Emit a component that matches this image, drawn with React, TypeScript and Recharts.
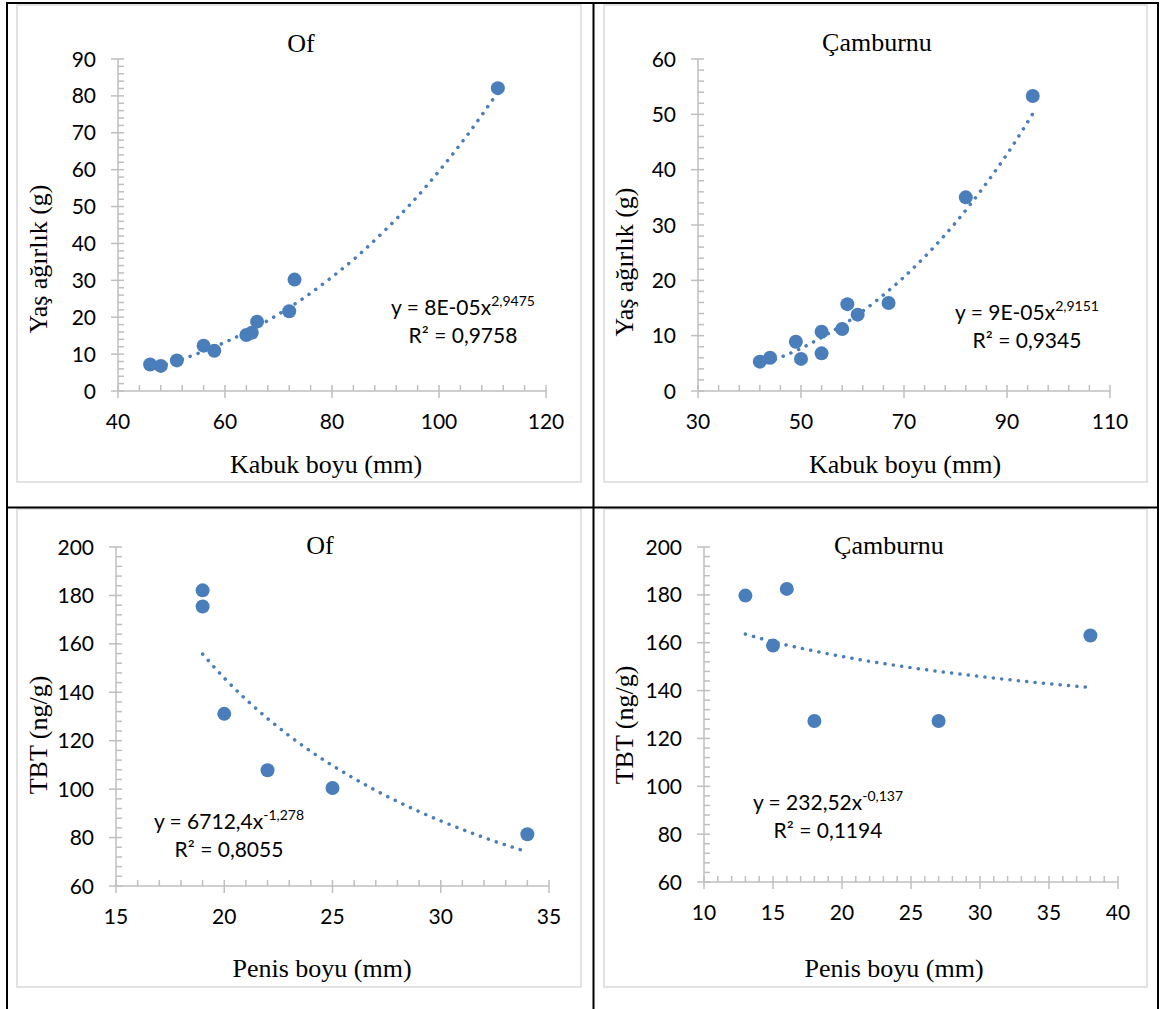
import React from 'react'
import { ComposedChart, Scatter, Line, XAxis, YAxis } from 'recharts'

// Of – shell length vs wet weight
const ofShellLength = [46, 48, 51, 56, 58, 64, 65, 66, 72, 73, 111]
const ofWetWeight = [7.2, 6.8, 8.3, 12.3, 10.9, 15.2, 15.8, 18.8, 21.6, 30.2, 82.1]
const ofWeightTrendX = [46, 50, 55, 60, 65, 70, 75, 80, 85, 90, 95, 100, 105, 111]
const ofWeightTrendY = [6.0, 7.7, 10.2, 13.2, 16.7, 20.8, 25.5, 30.9, 36.9, 43.7, 51.2, 59.6, 68.8, 81.0]

// Çamburnu – shell length vs wet weight
const camShellLength = [42, 44, 49, 50, 54, 54, 58, 59, 61, 67, 82, 95]
const camWetWeight = [5.3, 6.0, 8.9, 5.8, 10.7, 6.8, 11.2, 15.7, 13.8, 15.9, 35.0, 53.3]
const camWeightTrendX = [42, 45, 50, 55, 60, 65, 70, 75, 80, 85, 90, 95]
const camWeightTrendY = [4.6, 5.7, 7.7, 10.2, 13.1, 16.6, 20.6, 25.2, 30.4, 36.3, 42.8, 50.1]

// Of – penis length vs TBT
const ofPenisLength = [19, 19, 20, 22, 25, 34]
const ofTbt = [182.1, 175.4, 131.1, 107.8, 100.5, 81.4]
const ofTbtTrendX = [19, 20, 22, 24, 26, 28, 30, 32, 34]
const ofTbtTrendY = [155.8, 145.9, 129.2, 115.6, 104.4, 94.9, 86.9, 80.0, 74.1]

// Çamburnu – penis length vs TBT
const camPenisLength = [13, 15, 16, 18, 27, 38]
const camTbt = [179.7, 158.8, 182.5, 127.3, 127.3, 163.0]
const camTbtTrendX = [13, 15, 18, 21, 24, 27, 30, 34, 38]
const camTbtTrendY = [163.6, 160.4, 156.5, 153.2, 150.4, 148.0, 145.9, 143.4, 141.3]

// tick labels
const weightXTicksOf = [40, 60, 80, 100, 120]
const weightYTicksOf = [0, 10, 20, 30, 40, 50, 60, 70, 80, 90]
const weightXTicksCam = [30, 50, 70, 90, 110]
const weightYTicksCam = [0, 10, 20, 30, 40, 50, 60]
const tbtXTicksOf = [15, 20, 25, 30, 35]
const tbtXTicksCam = [10, 15, 20, 25, 30, 35, 40]
const tbtYTicks = [60, 80, 100, 120, 140, 160, 180, 200]

const BLUE = '#4a7ebb'
const AXIS = '#bfbfbf'
const SANS = 'Lato, "Open Sans", sans-serif'
const SERIF = '"Liberation Serif", "Times New Roman", serif'

type Pt = { x: number; y: number }
const zip = (xs: number[], ys: number[]): Pt[] => xs.map((x, i) => ({ x, y: ys[i] }))

// majors plus 4 minor ticks between each pair
const withMinor = (majors: number[], parts = 5) => {
  const out: number[] = []
  for (let i = 0; i < majors.length - 1; i++) {
    const step = (majors[i + 1] - majors[i]) / parts
    for (let k = 0; k < parts; k++) out.push(Math.round((majors[i] + k * step) * 1000) / 1000)
  }
  out.push(majors[majors.length - 1])
  return out
}

function Tick(props: any) {
  const { x, y, payload, side, majors } = props
  const v = payload.value
  const major = majors.includes(v)
  if (side === 'y') {
    return (
      <g>
        <line x1={major ? x - 7 : x} x2={x + 6} y1={y} y2={y} stroke={AXIS} strokeWidth={1.5} />
        {major && (
          <text x={x - 22} y={y} dy={7.5} textAnchor="end" fontFamily={SANS} fontSize={21} fill="#000">
            {v}
          </text>
        )}
      </g>
    )
  }
  return (
    <g>
      <line x1={x} x2={x} y1={y - 6} y2={major ? y + 7 : y} stroke={AXIS} strokeWidth={1.5} />
      {major && (
        <text x={x} y={y + 38} textAnchor="middle" fontFamily={SANS} fontSize={21} fill="#000">
          {v}
        </text>
      )}
    </g>
  )
}

type Panel = {
  left: number
  top: number
  width: number
  height: number
  margin: { top: number; right: number }
  yWidth: number
  xHeight: number
  xTicks: number[]
  yTicks: number[]
  points: Pt[]
  trend: Pt[]
}

const panels: Panel[] = [
  {
    left: 18, top: 6, width: 562, height: 475, margin: { top: 53, right: 34 }, yWidth: 100, xHeight: 90,
    xTicks: weightXTicksOf, yTicks: weightYTicksOf,
    points: zip(ofShellLength, ofWetWeight), trend: zip(ofWeightTrendX, ofWeightTrendY),
  },
  {
    left: 605, top: 6, width: 541, height: 475, margin: { top: 53, right: 36 }, yWidth: 93, xHeight: 90,
    xTicks: weightXTicksCam, yTicks: weightYTicksCam,
    points: zip(camShellLength, camWetWeight), trend: zip(camWeightTrendX, camWeightTrendY),
  },
  {
    left: 18, top: 510, width: 562, height: 476, margin: { top: 37, right: 31 }, yWidth: 98, xHeight: 100,
    xTicks: tbtXTicksOf, yTicks: tbtYTicks,
    points: zip(ofPenisLength, ofTbt), trend: zip(ofTbtTrendX, ofTbtTrendY),
  },
  {
    left: 605, top: 510, width: 541, height: 476, margin: { top: 37, right: 28 }, yWidth: 99, xHeight: 104,
    xTicks: tbtXTicksCam, yTicks: tbtYTicks,
    points: zip(camPenisLength, camTbt), trend: zip(camTbtTrendX, camTbtTrendY),
  },
]

function PanelChart({ p }: { p: Panel }) {
  const xs = p.xTicks
  const ys = p.yTicks
  return (
    <div style={{ position: 'absolute', left: p.left, top: p.top }}>
      <ComposedChart
        width={p.width}
        height={p.height}
        margin={{ top: p.margin.top, right: p.margin.right, bottom: 0, left: 0 }}
      >
        <XAxis
          type="number"
          dataKey="x"
          domain={[xs[0], xs[xs.length - 1]]}
          ticks={withMinor(xs)}
          interval={0}
          height={p.xHeight}
          tickSize={0}
          tickMargin={0}
          tickLine={false}
          axisLine={{ stroke: AXIS, strokeWidth: 1.5 }}
          tick={(t: any) => <Tick {...t} side="x" majors={xs} />}
          allowDataOverflow
        />
        <YAxis
          type="number"
          dataKey="y"
          domain={[ys[0], ys[ys.length - 1]]}
          ticks={withMinor(ys)}
          interval={0}
          width={p.yWidth}
          tickSize={0}
          tickMargin={0}
          tickLine={false}
          axisLine={{ stroke: AXIS, strokeWidth: 1.5 }}
          tick={(t: any) => <Tick {...t} side="y" majors={ys} />}
          allowDataOverflow
        />
        <Scatter
          data={p.points}
          dataKey="y"
          fill={BLUE}
          isAnimationActive={false}
          shape={(s: any) => <circle cx={s.cx} cy={s.cy} r={7} fill={BLUE} />}
        />
        <Line
          data={p.trend}
          dataKey="y"
          type="monotone"
          stroke={BLUE}
          strokeWidth={3.5}
          strokeDasharray="0.1 8.3"
          strokeLinecap="round"
          dot={false}
          activeDot={false}
          isAnimationActive={false}
        />
      </ComposedChart>
    </div>
  )
}

// titles, axis titles and trend equations
const texts = [
  { title: 'Of', tx: 301, ty: 52, xTitle: 'Kabuk boyu (mm)', xx: 326, xy: 473, yTitle: 'Yaş ağırlık (g)', yx: 47, yy: 259,
    eq: 'y = 8E-05x', sup: '2,9475', r2: 'R² = 0,9758', ex: 463, ey: 315 },
  { title: 'Çamburnu', tx: 877, ty: 51, xTitle: 'Kabuk boyu (mm)', xx: 905, xy: 473, yTitle: 'Yaş ağırlık (g)', yx: 633, yy: 262,
    eq: 'y = 9E-05x', sup: '2,9151', r2: 'R² = 0,9345', ex: 1027, ey: 320 },
  { title: 'Of', tx: 320, ty: 554, xTitle: 'Penis boyu (mm)', xx: 322, xy: 977, yTitle: 'TBT (ng/g)', yx: 47, yy: 735,
    eq: 'y = 6712,4x', sup: '-1,278', r2: 'R² = 0,8055', ex: 229, ey: 829 },
  { title: 'Çamburnu', tx: 889, ty: 554, xTitle: 'Penis boyu (mm)', xx: 894, xy: 977, yTitle: 'TBT (ng/g)', yx: 633, yy: 725,
    eq: 'y = 232,52x', sup: '-0,137', r2: 'R² = 0,1194', ex: 828, ey: 810 },
]

export default function App() {
  return (
    <div style={{ position: 'absolute', left: 0, top: 0, width: 1161, height: 1009, background: '#fff', overflow: 'hidden' }}>
      {panels.map((p, i) => (
        <PanelChart key={i} p={p} />
      ))}
      <svg width={1161} height={1009} style={{ position: 'absolute', left: 0, top: 0, pointerEvents: 'none' }}>
        {/* chart frames */}
        <rect x={17} y={5} width={564} height={477} fill="none" stroke="#d9d9d9" strokeWidth={1.5} />
        <rect x={604} y={5} width={543} height={477} fill="none" stroke="#d9d9d9" strokeWidth={1.5} />
        <rect x={17} y={509} width={564} height={478} fill="none" stroke="#d9d9d9" strokeWidth={1.5} />
        <rect x={604} y={509} width={543} height={478} fill="none" stroke="#d9d9d9" strokeWidth={1.5} />
        {/* table lines */}
        <g stroke="#000" strokeWidth={2}>
          <line x1={7} x2={1159} y1={3} y2={3} />
          <line x1={7} x2={7} y1={2} y2={1009} />
          <line x1={1158} x2={1158} y1={2} y2={1009} />
          <line x1={593.5} x2={593.5} y1={2} y2={1009} />
          <line x1={7} x2={1159} y1={507.5} y2={507.5} />
        </g>
        {texts.map((t, i) => (
          <g key={i}>
            <text x={t.tx} y={t.ty} textAnchor="middle" fontFamily={SERIF} fontSize={26} fill="#000">
              {t.title}
            </text>
            <text x={t.xx} y={t.xy} textAnchor="middle" fontFamily={SERIF} fontSize={26} fill="#000">
              {t.xTitle}
            </text>
            <text
              x={t.yx}
              y={t.yy}
              transform={`rotate(-90 ${t.yx} ${t.yy})`}
              textAnchor="middle"
              fontFamily={SERIF}
              fontSize={26}
              fill="#000"
            >
              {t.yTitle}
            </text>
            <text x={t.ex} y={t.ey} textAnchor="middle" fontFamily={SANS} fontSize={21} fill="#000">
              {t.eq}
              <tspan dy={-9} fontSize={14}>
                {t.sup}
              </tspan>
            </text>
            <text x={t.ex} y={t.ey + 28} textAnchor="middle" fontFamily={SANS} fontSize={21} fill="#000">
              {t.r2}
            </text>
          </g>
        ))}
      </svg>
    </div>
  )
}
